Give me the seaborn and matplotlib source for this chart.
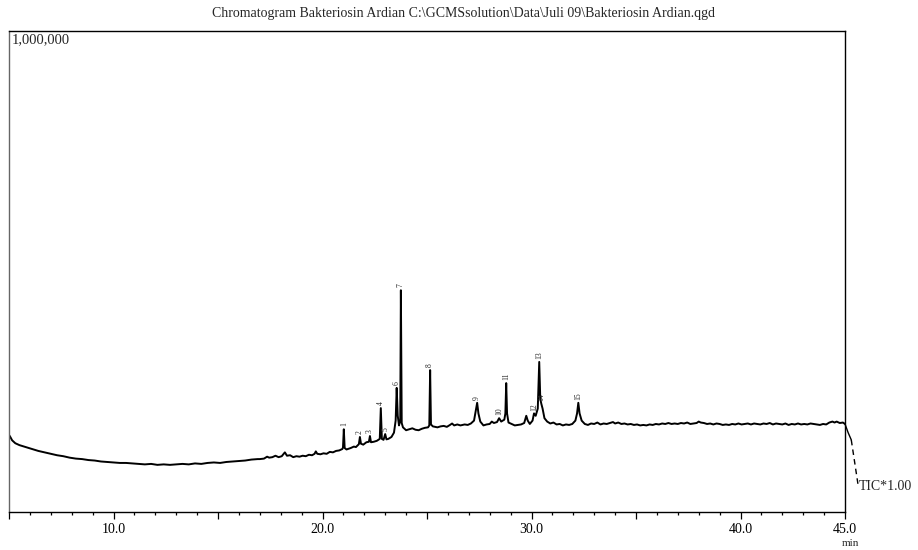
import numpy as np
import pandas as pd
import matplotlib
matplotlib.use("Agg")
import matplotlib.pyplot as plt
import seaborn as sns

# ---- data: (retention time [min], TIC intensity [thousand counts]) ----
trace_start = [
    (5.00, 160), (5.05, 157), (5.15, 149), (5.30, 143), (5.50, 139), (5.80, 135), (6.10, 131),
    (6.40, 127), (6.70, 124), (7.00, 121), (7.30, 118), (7.60, 116), (7.90, 113), (8.20, 111),
    (8.50, 110), (8.80, 108), (9.10, 107), (9.40, 105), (9.70, 104), (10.00, 103), (10.30, 102),
    (10.60, 102), (10.90, 101), (11.20, 100), (11.50, 99), (11.80, 100), (12.10, 98),
    (12.40, 99), (12.70, 98), (13.00, 99), (13.30, 100), (13.60, 99), (13.90, 101),
    (14.20, 100), (14.50, 102), (14.80, 103), (15.10, 102), (15.40, 104), (15.70, 105),
    (16.00, 106), (16.30, 107), (16.60, 109), (16.90, 110), (17.00, 110), (17.20, 111),
    (17.35, 115), (17.45, 113), (17.60, 114), (17.75, 117), (17.90, 114), (18.05, 116),
    (18.20, 124), (18.30, 117), (18.45, 118), (18.60, 114), (18.75, 116), (18.90, 115),
    (19.05, 117), (19.20, 116), (19.35, 119), (19.50, 118), (19.62, 121), (19.68, 126),
    (19.75, 121), (19.90, 120), (20.05, 122), (20.20, 121), (20.35, 125), (20.50, 124),
    (20.65, 127), (20.80, 128),
]
trace_peaks = [
    (20.95, 131), (20.98, 134), (21.02, 172), (21.06, 133), (21.15, 130), (21.35, 133),
    (21.50, 136), (21.60, 135), (21.74, 141), (21.79, 156), (21.84, 142), (21.95, 140),
    (22.10, 145), (22.22, 146), (22.27, 158), (22.32, 145), (22.45, 146), (22.60, 148),
    (22.74, 152), (22.79, 216), (22.84, 152), (22.92, 150), (23.00, 162), (23.06, 151),
    (23.15, 152), (23.30, 156), (23.42, 165), (23.50, 190), (23.55, 258), (23.60, 200),
    (23.66, 180), (23.72, 190), (23.75, 461), (23.79, 185), (23.85, 176), (24.00, 170),
    (24.15, 172), (24.30, 174), (24.45, 171), (24.60, 170), (24.75, 173), (24.90, 175),
    (25.05, 176), (25.11, 180), (25.15, 295), (25.19, 182), (25.28, 178), (25.40, 177),
    (25.50, 176), (25.65, 178), (25.80, 179), (25.95, 177), (26.10, 181), (26.20, 184),
    (26.30, 180), (26.45, 182), (26.60, 180), (26.80, 182), (26.95, 181), (27.10, 184),
    (27.25, 190), (27.33, 210), (27.40, 227), (27.46, 205), (27.55, 188), (27.70, 180),
    (27.85, 182), (28.00, 183), (28.10, 188), (28.20, 185), (28.35, 187), (28.45, 195),
    (28.55, 188), (28.70, 192), (28.75, 205), (28.79, 268), (28.83, 205), (28.90, 186),
    (29.05, 183), (29.20, 180), (29.35, 181), (29.50, 182), (29.65, 185), (29.75, 200),
    (29.82, 190), (29.92, 183), (30.05, 190), (30.12, 205), (30.20, 200), (30.30, 215),
    (30.37, 312), (30.42, 235), (30.47, 225), (30.53, 215), (30.62, 195), (30.75, 188),
    (30.90, 184), (31.05, 186), (31.20, 182), (31.35, 183), (31.50, 180), (31.65, 182),
    (31.80, 181), (31.95, 183), (32.10, 190), (32.18, 205), (32.24, 227), (32.30, 205),
    (32.40, 190), (32.55, 183), (32.70, 181),
]
trace_plateau = [
    (32.85, 184), (33.00, 183), (33.15, 186), (33.30, 182), (33.45, 184), (33.60, 183),
    (33.75, 185), (33.90, 187), (34.00, 184), (34.15, 186), (34.30, 183), (34.45, 184),
    (34.60, 182), (34.75, 183), (34.90, 181), (35.05, 182), (35.20, 180), (35.35, 181),
    (35.50, 180), (35.65, 182), (35.80, 181), (35.95, 183), (36.10, 182), (36.25, 184),
    (36.40, 183), (36.55, 185), (36.70, 183), (36.85, 184), (37.00, 183), (37.15, 185),
    (37.30, 184), (37.45, 186), (37.60, 183), (37.75, 184), (37.90, 185), (38.00, 188),
    (38.10, 186), (38.25, 185), (38.40, 183), (38.55, 184), (38.70, 182), (38.85, 184),
    (39.00, 183), (39.15, 181), (39.30, 182), (39.45, 181), (39.60, 183), (39.75, 182),
    (39.90, 184), (40.05, 182), (40.20, 183), (40.35, 184), (40.50, 182), (40.65, 184),
    (40.80, 183), (40.95, 182), (41.10, 184), (41.25, 183), (41.40, 185), (41.55, 182),
    (41.70, 184), (41.85, 183), (42.00, 182), (42.15, 184), (42.30, 181), (42.45, 183),
    (42.60, 182), (42.75, 184), (42.90, 182), (43.05, 183), (43.20, 182), (43.35, 184),
    (43.50, 183), (43.65, 182), (43.80, 181), (43.95, 183), (44.10, 182), (44.25, 186),
    (44.40, 188), (44.50, 186), (44.60, 188), (44.75, 185), (44.90, 186), (45.00, 183),
]

# trace tail after the end of the run (leading to the TIC label)
tail_solid = [(45.00, 183), (45.15, 165), (45.30, 150)]
tail_dash = [(45.30, 150), (45.62, 58)]

peak_labels = ["1", "2", "3", "4", "5", "6", "7", "8", "9", "10", "11", "12", "13", "14", "15"]
peak_times = [21.02, 21.79, 22.27, 22.79, 23.00, 23.55, 23.75, 25.15, 27.40, 28.45, 28.79,
              30.12, 30.37, 30.47, 32.24]
peak_heights = [172, 156, 158, 216, 162, 258, 461, 295, 227, 195, 268, 205, 312, 225, 227]

tick_pos = [5, 10, 15, 20, 25, 30, 35, 40, 45]
tick_text = ["", "10.0", "", "20.0", "", "30.0", "", "40.0", "45.0"]

title = r"Chromatogram Bakteriosin Ardian C:\GCMSsolution\Data\Juli 09\Bakteriosin Ardian.qgd"

# ---- table built from the lists ----
trace = trace_start + trace_peaks + trace_plateau
df = pd.DataFrame(trace, columns=["t", "k"])
df["v"] = df["k"] * 1000

# ---- plot ----
sns.set_style("white")
plt.rcParams["font.family"] = ["Liberation Serif", "DejaVu Serif"]

fig = plt.figure(figsize=(9.18, 5.5), dpi=100)
ax = fig.add_axes([9 / 918, 1 - 512 / 550, (845 - 9) / 918, (512 - 31) / 550])

sns.lineplot(data=df, x="t", y="v", ax=ax, color="black", linewidth=1.4,
             estimator=None, sort=False)
ax.plot([p[0] for p in tail_solid], [p[1] * 1000 for p in tail_solid],
        color="black", linewidth=1.0, clip_on=False)
ax.plot([p[0] for p in tail_dash], [p[1] * 1000 for p in tail_dash],
        color="black", linewidth=1.0, clip_on=False, linestyle=(0, (4, 3)))

for lab, t, h in zip(peak_labels, peak_times, peak_heights):
    ax.annotate(lab, xy=(t, h * 1000), xytext=(0, 2), textcoords="offset points",
                rotation=90, ha="center", va="bottom", fontsize=5.5)

ax.set_xlim(5, 45)
ax.set_ylim(0, 1000000)
ax.set_xlabel("")
ax.set_ylabel("")
ax.set_yticks([])
ax.set_xticks(tick_pos)
ax.set_xticklabels(tick_text, fontsize=10)
ax.set_xticks(np.arange(5, 46, 1), minor=True)
ax.tick_params(axis="x", which="major", direction="out", length=5, width=0.9,
               pad=3, bottom=True, colors="black")
ax.tick_params(axis="x", which="minor", direction="out", length=2.5, width=0.9,
               bottom=True, colors="black")

for s in ["top", "right", "bottom"]:
    ax.spines[s].set_color("black")
    ax.spines[s].set_linewidth(1.0)
ax.spines["left"].set_color("#666666")
ax.spines["left"].set_linewidth(1.0)

ax.text(0.003, 0.995, "1,000,000", transform=ax.transAxes, ha="left", va="top",
        fontsize=10.5)
fig.text(464 / 918, 1 - 13 / 550, title, ha="center", va="center", fontsize=10)
ax.text(45.66, 52000, "TIC*1.00", ha="left", va="center", fontsize=10, clip_on=False)
fig.text(850 / 918, 1 - 543 / 550, "min", ha="center", va="center", fontsize=8)

fig.savefig("out.png", dpi=100)
